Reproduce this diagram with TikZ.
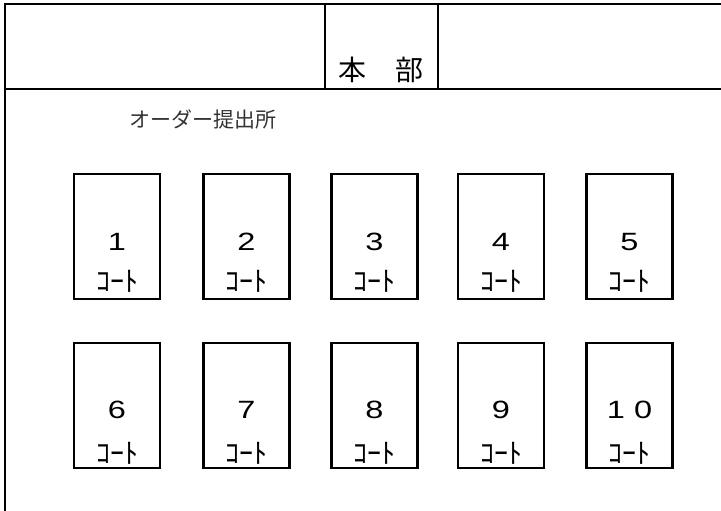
\documentclass[tikz,border=0pt]{standalone}
\usepackage{fontspec}
\setmainfont{Liberation Sans}
\newfontfamily\jp{Noto Sans CJK JP}
\begin{document}
\begin{tikzpicture}[x=1pt,y=-1pt,
  frame/.style={line width=2.3pt,line cap=rect},
  court/.style={draw,line width=2.1pt,minimum width=86pt,minimum height=125pt,inner sep=0pt},
  num/.style={inner sep=0pt,font=\fontsize{25}{25}\selectfont},
  kana/.style={inner sep=0pt,font=\jp\fontsize{28}{28}\selectfont},
  head/.style={inner sep=0pt,font=\jp\fontsize{28}{28}\selectfont}]
\useasboundingbox (0,0) rectangle (721,511);
\coordinate (tl) at (5,4);
\coordinate (tr) at (721,4);
\coordinate (bl) at (5,511);
\coordinate (ml) at (5,89);
\coordinate (mr) at (721,89);
\coordinate (v1t) at (325,4);
\coordinate (v1b) at (325,89);
\coordinate (v2t) at (438,4);
\coordinate (v2b) at (438,89);
\draw[frame] (tr) -- (tl) -- (bl);
\draw[frame] (ml) -- (mr);
\draw[frame] (v1t) -- (v1b);
\draw[frame] (v2t) -- (v2b);
\node[head] (hon) at (352.5,70) {本};
\node[head] (bu) at (409,70) {部};
\node[inner sep=0pt,anchor=west,text=black!80,font=\jp\fontsize{21}{21}\selectfont] (order) at (129,119) {オーダー提出所};
\foreach \i/\x in {1/117,2/246.5,3/374.5,4/501,5/629.5}{
  \node[court] (c\i) at (\x,236.5) {};
  \node[num] (n\i) at (\x,242) {\scalebox{1.3}[1]{\i}};
  \node[kana] (k\i) at (\x,281) {ｺｰﾄ};
}
\foreach \i/\x in {6/117,7/246.5,8/374.5,9/501}{
  \node[court] (c\i) at (\x,405.5) {};
  \node[num] (n\i) at (\x,410) {\scalebox{1.3}[1]{\i}};
  \node[kana] (k\i) at (\x,453) {ｺｰﾄ};
}
\node[court] (c10) at (629.5,405.5) {};
\node[num] (n10) at (629.5,410) {\scalebox{1.3}[1]{1\hspace{7pt}0}};
\node[kana] (k10) at (629.5,453) {ｺｰﾄ};
\end{tikzpicture}
\end{document}
